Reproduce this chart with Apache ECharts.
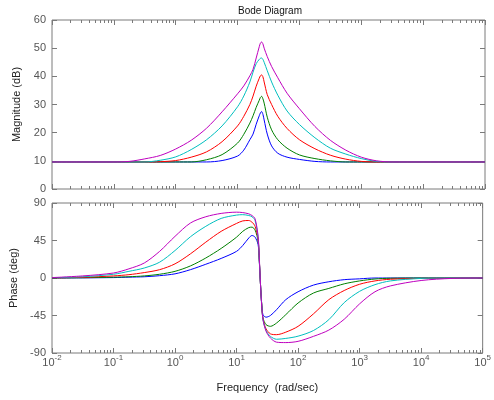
<!DOCTYPE html>
<html>
<head>
<meta charset="utf-8">
<script src="https://cdn.jsdelivr.net/npm/echarts@6/dist/echarts.min.js"></script>
<style>
html,body{margin:0;padding:0;background:#fff;}
#container{width:494px;height:400px;}
</style>
</head>
<body>
<div id="container"></div>
<script>
// frequency grid (rad/sec), shared by all curves
var freq = [0.01, 0.0316, 0.1, 0.178, 0.316, 0.562, 1, 1.78, 3.16, 5.62, 10, 12.6, 15.8, 17.8, 20, 22.4, 23.4, 24.5, 25.7, 26.9, 30.2, 35.5, 44.7, 63.1, 100, 178, 316, 562, 1000, 1778, 3162, 10000, 31623, 100000];

// magnitude (dB)
var magBlue    = [9.6, 9.6, 9.6, 9.6, 9.6, 9.6, 9.6, 9.6, 9.6, 10.1, 11.7, 13.8, 17.5, 19.5, 23.0, 26.0, 27.0, 27.5, 26.5, 24.5, 19.5, 15.3, 12.7, 11.3, 10.5, 9.8, 9.6, 9.6, 9.6, 9.6, 9.6, 9.6, 9.6, 9.6];
var magGreen   = [9.6, 9.6, 9.6, 9.6, 9.6, 9.6, 9.6, 9.6, 10.4, 12.2, 16.3, 19.4, 23.4, 26.0, 29.0, 31.5, 32.5, 32.9, 32.0, 30.5, 25.5, 21.0, 17.5, 14.5, 12.1, 10.8, 10.0, 9.6, 9.6, 9.6, 9.6, 9.6, 9.6, 9.6];
var magRed     = [9.6, 9.6, 9.6, 9.6, 9.6, 9.7, 10.1, 11.3, 13.2, 16.8, 22.4, 25.8, 30.0, 33.0, 36.5, 39.3, 40.2, 40.5, 39.8, 38.0, 33.5, 30.0, 25.8, 21.5, 17.5, 14.3, 12.0, 10.6, 9.8, 9.6, 9.6, 9.6, 9.6, 9.6];
var magCyan    = [9.6, 9.6, 9.6, 9.6, 9.6, 10.2, 11.4, 14.0, 17.5, 22.4, 29.2, 33.0, 38.0, 41.5, 44.5, 46.0, 46.4, 46.5, 46.0, 45.0, 42.0, 38.0, 33.3, 27.7, 22.9, 18.2, 14.5, 12.4, 10.8, 9.8, 9.6, 9.6, 9.6, 9.6];
var magMagenta = [9.6, 9.6, 9.6, 9.8, 10.7, 11.9, 14.2, 17.3, 21.6, 27.4, 33.8, 36.6, 40.2, 42.5, 46.5, 50.5, 51.8, 52.2, 51.5, 50.0, 47.0, 43.5, 39.5, 34.0, 28.5, 22.2, 17.3, 13.8, 11.3, 10.0, 9.6, 9.6, 9.6, 9.6];

// phase (deg)
var phBlue    = [0, 0.2, 0.5, 1, 1.5, 2.8, 5, 10, 16.5, 23.5, 32, 39, 48, 51, 49, 40, 20, -8, -33, -44, -47, -45, -38, -26, -16.5, -8.5, -4.5, -2, -1, 0, 0, 0, 0, 0];
var phGreen   = [0, 0.3, 1, 1.5, 2.5, 4.5, 8, 14.5, 24, 35.5, 49, 56, 60.5, 61, 57.5, 44, 22, -8, -33, -48, -56, -58, -54, -44, -30, -18, -12.5, -7, -3.5, -1.2, -0.3, 0, 0, 0];
var phRed     = [0.2, 0.8, 2.5, 4, 6.5, 10, 17, 29, 43, 56, 65.5, 68.5, 69, 67, 62, 46, 22, -8, -33, -49, -61, -67, -68, -65, -58, -43, -26, -15, -7.5, -3.5, -1.5, -0.5, 0, 0];
var phCyan    = [0.3, 1.5, 4.5, 8, 12, 19, 33, 49.5, 62, 71.5, 75.5, 76, 75, 73.5, 69, 48, 22, -8, -33, -50, -63, -70, -73.5, -72.5, -69.8, -63, -50, -29.5, -16, -8, -3.5, -0.5, 0, 0];
var phMagenta = [0.5, 2.5, 6, 11, 18, 32, 50, 66, 73.5, 77.5, 79, 78.5, 77, 75, 71, 50, 25, -8, -35, -50, -64, -72, -77, -77.5, -76, -70, -62.5, -49.5, -31, -16.5, -9.5, -3, -0.5, 0];

var colors = ['#0000ff', '#008000', '#ff0000', '#00bfbf', '#bf00bf'];
var decades = [0.01, 0.1, 1, 10, 100, 1000, 10000, 100000];
var minorTicks = [];
for (var d = 0; d < decades.length - 1; d++) {
    for (var k = 2; k < 10; k++) minorTicks.push(decades[d] * k);
}

var lineCol = '#7a7a7a';
var txtCol = '#555';
var font = 'Liberation Sans, Arial, sans-serif';

function pairs(ys) {
    return freq.map(function (f, i) { return [f, ys[i]]; });
}

function xAx(grid, pos, ticks, len, withLabels) {
    var ax = {
        type: 'log', logBase: 10, gridIndex: grid, position: pos,
        min: 0.01, max: 100000,
        axisLine: { show: false, onZero: false },
        axisTick: { show: true, inside: true, length: len, customValues: ticks, lineStyle: { color: lineCol } },
        axisLabel: { show: false },
        splitLine: { show: false }
    };
    if (withLabels) {
        ax.axisLabel = {
            show: true, margin: 1, customValues: decades,
            formatter: function (v) {
                return '{b|10}{s|' + Math.round(Math.log10(v)) + '}';
            },
            rich: {
                b: { fontSize: 11, color: txtCol, fontFamily: font, padding: [3, 0, 0, 0], verticalAlign: 'bottom' },
                s: { fontSize: 8, color: txtCol, fontFamily: font, verticalAlign: 'top' }
            }
        };
        ax.name = 'Frequency  (rad/sec)';
        ax.nameLocation = 'middle';
        ax.nameGap = 29;
        ax.nameTextStyle = { fontSize: 11, color: '#222', fontFamily: font };
    }
    return ax;
}

function yAx(grid, pos, mn, mx, step, name, gap) {
    var ax = {
        type: 'value', gridIndex: grid, position: pos,
        min: mn, max: mx, interval: step,
        axisLine: { show: false },
        axisTick: { show: true, inside: true, length: 5, lineStyle: { color: lineCol } },
        axisLabel: { show: pos === 'left', margin: 6, color: txtCol, fontSize: 11, fontFamily: font },
        splitLine: { show: false }
    };
    if (name) {
        ax.name = name;
        ax.nameLocation = 'middle';
        ax.nameGap = gap;
        ax.nameTextStyle = { fontSize: 11, color: '#222', fontFamily: font };
    }
    return ax;
}

function line(name, ys, c, xi, yi) {
    return {
        name: name, type: 'line', data: pairs(ys), xAxisIndex: xi, yAxisIndex: yi,
        showSymbol: false, smooth: 0.3, lineStyle: { width: 1, color: c }, itemStyle: { color: c }
    };
}

var dom = document.getElementById('container');
var myChart = echarts.init(dom);
var option = {
    animation: false,
    backgroundColor: '#fff',
    title: {
        text: 'Bode Diagram', left: 265, top: 1, textAlign: 'center',
        textStyle: { fontSize: 10, fontWeight: 'normal', color: '#111', fontFamily: font }
    },
    grid: [
        { left: 52, width: 433, top: 20, height: 169, show: true, borderColor: lineCol, borderWidth: 1, backgroundColor: 'transparent' },
        { left: 52, width: 433, top: 203, height: 150, show: true, borderColor: lineCol, borderWidth: 1, backgroundColor: 'transparent' }
    ],
    // order matters: a second axis asking for a used side is flipped
    xAxis: [
        xAx(0, 'bottom', decades, 5, false),
        xAx(0, 'top', decades, 5, false),
        xAx(0, 'top', minorTicks, 3, false),
        xAx(0, 'bottom', minorTicks, 3, false),
        xAx(1, 'bottom', decades, 5, true),
        xAx(1, 'top', decades, 5, false),
        xAx(1, 'top', minorTicks, 3, false),
        xAx(1, 'bottom', minorTicks, 3, false)
    ],
    yAxis: [
        yAx(0, 'left', 0, 60, 10, 'Magnitude (dB)', 22),
        yAx(0, 'right', 0, 60, 10),
        yAx(1, 'left', -90, 90, 45, 'Phase (deg)', 24),
        yAx(1, 'right', -90, 90, 45)
    ],
    series: [
        line('1', magBlue, colors[0], 0, 0),
        line('2', magGreen, colors[1], 0, 0),
        line('3', magRed, colors[2], 0, 0),
        line('4', magCyan, colors[3], 0, 0),
        line('5', magMagenta, colors[4], 0, 0),
        line('1', phBlue, colors[0], 4, 2),
        line('2', phGreen, colors[1], 4, 2),
        line('3', phRed, colors[2], 4, 2),
        line('4', phCyan, colors[3], 4, 2),
        line('5', phMagenta, colors[4], 4, 2)
    ]
};
myChart.setOption(option, true);
</script>
</body>
</html>
